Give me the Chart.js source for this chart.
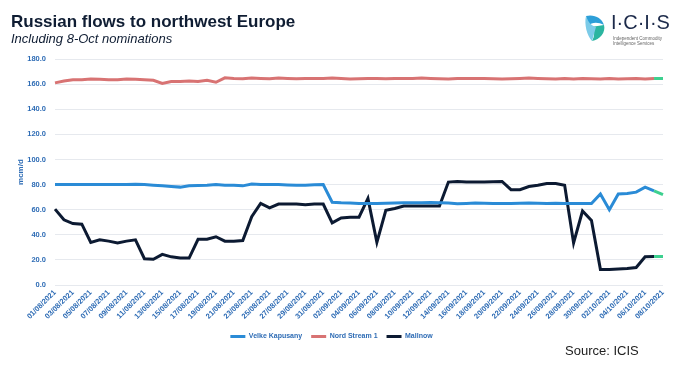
<!DOCTYPE html>
<html>
<head>
<meta charset="utf-8">
<script src="https://cdn.jsdelivr.net/npm/chart.js@4.4.0/dist/chart.umd.min.js"></script>
<style>
  body { margin: 0; background: #fff; }
  #wrap { position: relative; width: 680px; height: 365px; font-family: "Liberation Sans", Arial, sans-serif; }
  #myChart { position: absolute; left: 0; top: 0; }
  .title { position: absolute; left: 11px; top: 12px; font-size: 17px; font-weight: bold; color: #0f1d33; white-space: nowrap; }
  .subtitle { position: absolute; left: 11px; top: 31px; font-size: 13px; font-style: italic; color: #0f1d33; white-space: nowrap; }
  .source { position: absolute; left: 565px; top: 343px; font-size: 13px; color: #222; white-space: nowrap; }
  .logo { position: absolute; left: 580px; top: 8px; width: 100px; height: 40px; }
  .icis { position: absolute; left: 31px; top: 3px; font-size: 20px; color: #1c2a4a; letter-spacing: 0px; }
  .tag { position: absolute; left: 33px; top: 28px; font-size: 4.5px; line-height: 5px; color: #666; white-space: nowrap; }
</style>
</head>
<body>
<div id="wrap">
  <canvas id="myChart" width="680" height="365"></canvas>
  <div class="title">Russian flows to northwest Europe</div>
  <div class="subtitle">Including 8-Oct nominations</div>
  <div class="logo">
    <svg width="30" height="34" viewBox="0 0 30 34" style="position:absolute;left:2px;top:2px">
      <path d="M4 6 C12 4 20 8 22 15 C16 12 10 12 6 16 Z" fill="#2d9fd8"/>
      <path d="M22 15 C24 22 18 30 10 31 C13 26 13 20 9 17 Z" fill="#2bb5a0"/>
      <path d="M10 31 C5 26 2 14 4 6 C6 11 8 15 14 17 Z" fill="#7ccbe8"/>
    </svg>
    <div class="icis">I·C·I·S</div>
    <div class="tag">Independent Commodity<br>Intelligence Services</div>
  </div>
  <div class="source">Source: ICIS</div>
</div>
<script>
var dates = [
  '01/08/2021','02/08/2021','03/08/2021','04/08/2021','05/08/2021','06/08/2021','07/08/2021','08/08/2021',
  '09/08/2021','10/08/2021','11/08/2021','12/08/2021','13/08/2021','14/08/2021','15/08/2021','16/08/2021',
  '17/08/2021','18/08/2021','19/08/2021','20/08/2021','21/08/2021','22/08/2021','23/08/2021','24/08/2021',
  '25/08/2021','26/08/2021','27/08/2021','28/08/2021','29/08/2021','30/08/2021','31/08/2021',
  '01/09/2021','02/09/2021','03/09/2021','04/09/2021','05/09/2021','06/09/2021','07/09/2021','08/09/2021',
  '09/09/2021','10/09/2021','11/09/2021','12/09/2021','13/09/2021','14/09/2021','15/09/2021','16/09/2021',
  '17/09/2021','18/09/2021','19/09/2021','20/09/2021','21/09/2021','22/09/2021','23/09/2021','24/09/2021',
  '25/09/2021','26/09/2021','27/09/2021','28/09/2021','29/09/2021','30/09/2021',
  '01/10/2021','02/10/2021','03/10/2021','04/10/2021','05/10/2021','06/10/2021','07/10/2021','08/10/2021'
];

var velke = [
  80, 80, 80, 80, 80, 80, 80, 80, 80, 80.3,
  80, 79.5, 79, 78.5, 78, 79, 79.3, 79.5, 80, 79.5,
  79.5, 79, 80.5, 80, 80, 80, 79.7, 79.5, 79.5, 79.8,
  80, 66, 65.5, 65.3, 65, 65, 65, 65.2, 65.3, 65.5,
  65.5, 65.5, 65.8, 65.5, 65.3, 64.8, 65, 65.3, 65.2, 65,
  65, 65, 65.2, 65.3, 65.2, 65, 65.2, 65, 65, 65,
  65, 72.5, 60, 72.5, 73, 74, 78, 75, 72
];

var nordStream = [
  161, 162.5, 163.5, 163.5, 164, 163.8, 163.5, 163.5, 164, 163.8,
  163.5, 163, 160.5, 162, 162, 162.5, 162, 163, 161.5, 165,
  164.5, 164.3, 164.8, 164.5, 164.3, 164.8, 164.5, 164.3, 164.5, 164.5,
  164.5, 164.8, 164.5, 164, 164.3, 164.5, 164.5, 164.3, 164.5, 164.5,
  164.5, 164.8, 164.5, 164.3, 164, 164.5, 164.5, 164.5, 164.5, 164.3,
  164, 164.2, 164.5, 164.8, 164.5, 164.2, 164, 164.5, 164, 164.5,
  164.3, 164, 164.5, 164, 164.3, 164.5, 164, 164.5, 164.5
];

var mallnow = [
  60.5, 52, 49, 48.5, 34, 36, 35, 33.5, 35, 36,
  21, 20.5, 24.5, 22.5, 21.5, 21.5, 36.5, 36.5, 38.5, 35,
  35, 35.5, 54.5, 65, 61.5, 64.5, 64.5, 64.5, 64, 64.5,
  64.5, 49.5, 53.5, 54, 54, 69, 34, 59.5, 61, 63,
  63, 63, 63, 63, 82, 82.5, 82, 82, 82, 82.3,
  82.5, 76, 76, 78.5, 79.5, 80.8, 80.8, 79.5, 33.5, 59,
  51.5, 12.5, 12.5, 12.8, 13.2, 14, 22.5, 22.8, 22.8
];

var blue = '#2e6cb5';
var nomColor = '#3dd08f';
var lastIdx = dates.length - 1;

function makeSet(label, data, color) {
  return {
    label: label,
    data: data,
    borderColor: color,
    backgroundColor: color,
    borderWidth: 3,
    pointRadius: 0,
    tension: 0,
    segment: {
      borderColor: function(ctx) {
        return ctx.p1DataIndex === lastIdx ? nomColor : undefined;
      }
    }
  };
}

const myChart = new Chart(document.getElementById('myChart'), {
  type: 'line',
  data: {
    labels: dates,
    datasets: [
      makeSet('Velke Kapusany', velke, '#2a8bd6'),
      makeSet('Nord Stream 1', nordStream, '#d87373'),
      makeSet('Mallnow', mallnow, '#0c1a32')
    ]
  },
  options: {
    responsive: false,
    animation: false,
    layout: { padding: { top: 59, right: 17, bottom: 15, left: 0 } },
    plugins: {
      tooltip: { enabled: false },
      legend: {
        position: 'bottom',
        labels: {
          boxWidth: 15,
          boxHeight: 3,
          padding: 9,
          color: blue,
          font: { family: 'Liberation Sans', size: 7, weight: 'bold' },
          generateLabels: function(chart) {
            return Chart.defaults.plugins.legend.labels.generateLabels(chart).map(function(l) {
              l.lineWidth = 0;
              l.fillStyle = l.strokeStyle;
              return l;
            });
          }
        }
      }
    },
    scales: {
      x: {
        grid: { display: false, drawTicks: false },
        border: { display: false },
        ticks: {
          autoSkip: false,
          minRotation: 45,
          maxRotation: 45,
          padding: 3,
          color: blue,
          font: { family: 'Liberation Sans', size: 7.5, weight: 'bold' },
          callback: function(v, i) { return i % 2 === 0 ? dates[i] : null; }
        }
      },
      y: {
        min: 0,
        max: 180,
        afterFit: function(scale) { scale.width = 55; },
        grid: { color: '#e6e9ee', drawTicks: false },
        border: { display: false },
        ticks: {
          stepSize: 20,
          padding: 9,
          color: blue,
          font: { family: 'Liberation Sans', size: 7.5, weight: 'bold' },
          callback: function(v) { return v.toFixed(1); }
        },
        title: {
          display: true,
          text: 'mcm/d',
          color: blue,
          padding: { top: 16, bottom: 0 },
          font: { family: 'Liberation Sans', size: 8, weight: 'bold' }
        }
      }
    }
  }
});
</script>
</body>
</html>
